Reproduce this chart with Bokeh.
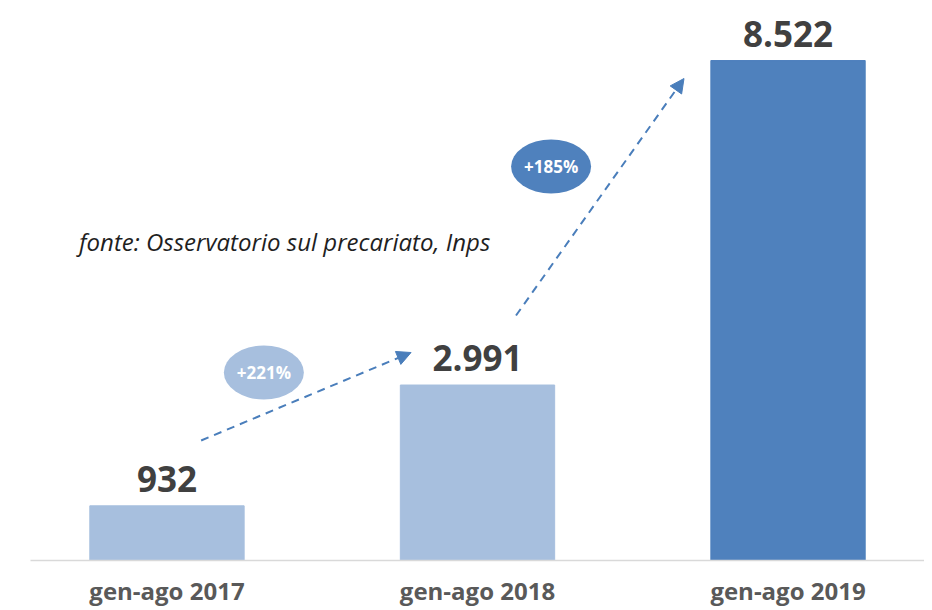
from bokeh.plotting import figure
from bokeh.models import (ColumnDataSource, FactorRange, Range1d, LabelSet, Label,
                          Arrow, NormalHead)
from bokeh.core.properties import value
from bokeh.embed import file_html
from bokeh.resources import INLINE

# ---- data ----
categories = ["gen-ago 2017", "gen-ago 2018", "gen-ago 2019"]
counts = [932, 2991, 8522]
bar_colors = ["#A7BFDE", "#A7BFDE", "#4F81BD"]
growth_labels = ["+221%", "+185%"]
source_note = "fonte: Osservatorio sul precariato, Inps"

# annotation anchors (synthetic categorical x, data y)
arrow_starts = [(0.61, 2045), (1.624, 4176)]
arrow_ends = [(1.286, 3545), (2.165, 8215)]
bubble_centers = [(0.812, 3204), (1.737, 6716)]
bubble_colors = ["#A7BFDE", "#4F81BD"]
note_anchor = (0.217, 5440)

labels_txt = [f"{v:,}".replace(",", ".") for v in counts]
src = ColumnDataSource(dict(cat=categories, val=counts, col=bar_colors, lab=labels_txt))

p = figure(width=924, height=610, output_backend="svg", toolbar_location=None,
           x_range=FactorRange(*categories, range_padding=-0.0605,
                               range_padding_units="absolute"),
           y_range=Range1d(0, 9545),
           min_border_left=30, min_border_right=0, min_border_top=0,
           min_border_bottom=50)
p.outline_line_color = None
p.xgrid.visible = False
p.ygrid.visible = False
p.yaxis.visible = False
p.background_fill_color = "white"
p.border_fill_color = "white"

p.vbar(x="cat", top="val", width=0.497, color="col", source=src)

ax = p.xaxis[0]
ax.axis_line_color = "#D9D9D9"
ax.axis_line_width = 1.5
ax.major_tick_line_color = None
ax.minor_tick_line_color = None
ax.major_label_standoff = 7
ax.major_label_text_font = "Open Sans"
ax.major_label_text_font_style = "bold"
ax.major_label_text_font_size = "24px"
ax.major_label_text_color = "#595959"

p.add_layout(LabelSet(x="cat", y="val", text="lab", source=src, y_offset=14,
                      text_align="center", text_baseline="alphabetic",
                      text_font=value("Open Sans"), text_font_style="bold",
                      text_font_size="35px", text_color="#404040"))

for (x0, y0), (x1, y1) in zip(arrow_starts, arrow_ends):
    p.add_layout(Arrow(x_start=x0, y_start=y0, x_end=x1, y_end=y1,
                       line_color="#4A7EBB", line_width=2, line_dash="8 6",
                       end=NormalHead(size=14, fill_color="#4A7EBB",
                                      line_color="#4A7EBB")))

for (cx, cy), c, t in zip(bubble_centers, bubble_colors, growth_labels):
    p.ellipse(x=[cx], y=[cy], width=80, height=54, width_units="screen",
              height_units="screen", fill_color=c, line_color=None)
    p.add_layout(Label(x=cx, y=cy, text=t, text_align="center",
                       text_baseline="middle", text_font="Open Sans",
                       text_font_style="bold", text_font_size="17px",
                       text_color="white"))

p.add_layout(Label(x=note_anchor[0], y=note_anchor[1], text=source_note,
                   text_align="left", text_baseline="middle",
                   text_font="Open Sans", text_font_style="italic",
                   text_font_size="24px", text_color="#1F1F1F"))

open("out.html", "w").write(file_html(p, INLINE))
